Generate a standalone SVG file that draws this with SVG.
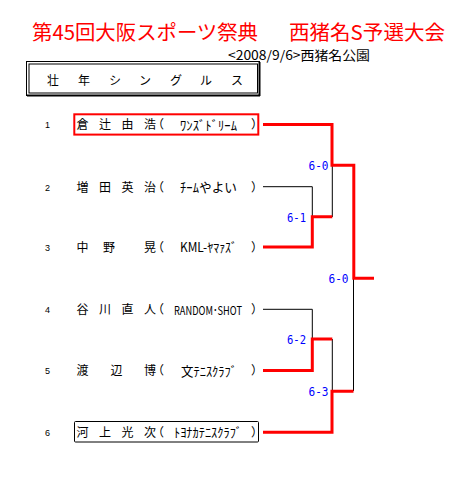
<svg xmlns="http://www.w3.org/2000/svg" width="474" height="489" viewBox="0 0 474 489">
<style>
text{font-family:"Noto Sans CJK JP","Noto Sans",sans-serif;fill:#000}
.title{font-size:20px;fill:#ff0000}
.name{font-size:12px}
.team{font-size:13px}
.num{font-size:9px;font-family:"Liberation Sans","Noto Sans",sans-serif}
.score{font-size:13px;fill:#0000ff;font-family:"DejaVu Sans Mono","Liberation Mono",monospace;text-anchor:end}
.red{fill:none;stroke:#ff0000;stroke-width:3}
.blk{fill:none;stroke:#000;stroke-width:1}
</style>
<rect width="474" height="489" fill="#fff"/>
<g id="title">
<text class="title" x="32" y="39.5" textLength="226" lengthAdjust="spacingAndGlyphs">第45回大阪スポーツ祭典</text>
<text class="title" x="289" y="39.5" textLength="156" lengthAdjust="spacingAndGlyphs">西猪名S予選大会</text>
<text x="228" y="59.5" font-size="13" textLength="142" lengthAdjust="spacingAndGlyphs">&lt;2008/9/6&gt;西猪名公園</text>
</g>
<g id="header">
<rect x="26.5" y="61.5" width="233" height="34" fill="none" stroke="#000" stroke-width="1"/>
<line x1="259.5" y1="62" x2="259.5" y2="96" stroke="#000" stroke-width="2"/>
<line x1="27" y1="95.5" x2="260" y2="95.5" stroke="#000" stroke-width="2"/>
<rect x="29" y="64" width="228.5" height="29" fill="none" stroke="#000" stroke-width="1"/>
<text font-size="12" y="84.5" x="47 78 109 139 170 200 231">壮年シングルス</text>
</g>
<g id="p1">
<text class="num" x="45" y="128">1</text>
<rect x="74.3" y="114.3" width="184" height="20.3" fill="none" stroke="#ff0000" stroke-width="2"/>
<text class="name" y="129" x="76.5 99 121.5 144 152">倉辻由浩（</text>
<text class="team" x="180" y="129.5" textLength="57" lengthAdjust="spacingAndGlyphs">ﾜﾝｽﾞﾄﾞﾘｰﾑ</text>
<text class="name" x="251" y="129">）</text>
</g>
<g id="p2">
<text class="num" x="45" y="190.5">2</text>
<text class="name" y="191.5" x="76.5 99 121.5 144 152">増田英治（</text>
<text class="team" x="180" y="192" textLength="57" lengthAdjust="spacingAndGlyphs">ﾁｰﾑやよい</text>
<text class="name" x="251" y="191.5">）</text>
</g>
<g id="p3">
<text class="num" x="45" y="251">3</text>
<text class="name" y="251.5" x="76.5 103 144 152">中野晃（</text>
<text class="team" x="180" y="252" textLength="57" lengthAdjust="spacingAndGlyphs">KML-ﾔﾏｧｽﾞ</text>
<text class="name" x="251" y="251.5">）</text>
</g>
<g id="p4">
<text class="num" x="45" y="313">4</text>
<text class="name" y="314" x="76.5 99 121.5 144 152">谷川直人（</text>
<text class="name" x="174" y="314"><tspan font-size="12" textLength="68" lengthAdjust="spacingAndGlyphs" y="314.5">RANDOM･SHOT</tspan><tspan x="251" y="314">）</tspan></text>
</g>
<g id="p5">
<text class="num" x="45" y="374">5</text>
<text class="name" y="375" x="76.5 110.5 144 152">渡辺博（</text>
<text class="team" x="181" y="375.5" textLength="56" lengthAdjust="spacingAndGlyphs">文ﾃﾆｽｸﾗﾌﾞ</text>
<text class="name" x="251" y="375">）</text>
</g>
<g id="p6">
<text class="num" x="45" y="435.5">6</text>
<rect x="74.5" y="421.5" width="184" height="20.5" rx="1" fill="none" stroke="#000" stroke-width="1"/>
<text class="name" y="436.5" x="76.5 99 121.5 144 152">河上光次（</text>
<text class="team" x="174" y="437" textLength="68" lengthAdjust="spacingAndGlyphs">ﾄﾖﾅｶﾃﾆｽｸﾗﾌﾞ</text>
<text class="name" x="251" y="436.5">）</text>
</g>
<g id="connectors">
<path class="blk" d="M263 186.7 H312.3 V217"/>
<path class="blk" d="M263 309.3 H312.3 V339"/>
<path class="blk" d="M332.3 165 V217"/>
<path class="blk" d="M332.3 339 V391"/>
<path class="blk" d="M353.5 278 V391"/>
<path class="red" d="M263 124.5 H332 V165.2 H353.8 V278.3 H374"/>
<path class="red" d="M263 247 H312.3 V216.7 H332.3"/>
<path class="red" d="M263 370.5 H312.3 V339 H332.3"/>
<path class="red" d="M263 432.3 H332 V391.2 H353.5"/>
</g>
<g id="scores">
<text class="score" x="328.5" y="169.5" textLength="20" lengthAdjust="spacingAndGlyphs">6-0</text>
<text class="score" x="306" y="221.5" textLength="19" lengthAdjust="spacingAndGlyphs">6-1</text>
<text class="score" x="348.5" y="283" textLength="20" lengthAdjust="spacingAndGlyphs">6-0</text>
<text class="score" x="306" y="344" textLength="19" lengthAdjust="spacingAndGlyphs">6-2</text>
<text class="score" x="328.5" y="396" textLength="20" lengthAdjust="spacingAndGlyphs">6-3</text>
</g>
</svg>
